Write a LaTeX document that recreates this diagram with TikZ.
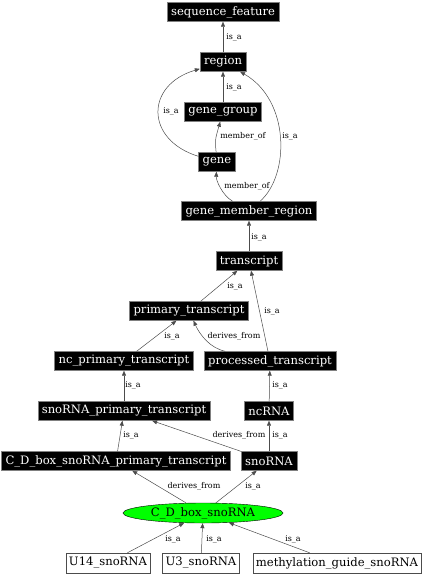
\documentclass[tikz,border=0pt]{standalone}
\usepackage{fontspec}
\setmainfont{DejaVu Serif}
\usetikzlibrary{arrows.meta,shapes.geometric}

\begin{document}
\begin{tikzpicture}[y=-1pt, x=1pt,font=\fontsize{11.6}{13}\selectfont,
term/.style={fill=black,draw=black!50,text=white,inner xsep=4pt,inner ysep=0pt,minimum height=19pt},
leaf/.style={fill=white,draw=black!70,inner xsep=3pt,inner ysep=0pt,minimum height=20pt},
rel/.style={draw=black!70,line width=.5pt,-{Triangle[length=5pt,width=4pt]}},
lbl/.style={font=\fontsize{8}{9}\selectfont,inner sep=0pt,text=black}]
\useasboundingbox (0,0) rectangle (425,576);

\node[term] (sequence_feature) at (223,12) {sequence\_feature};
\node[term] (region) at (223,62) {region};
\node[term] (gene_group) at (223,112) {gene\_group};
\node[term] (gene) at (217,162) {gene};
\node[term] (gene_member_region) at (249,211) {gene\_member\_region};
\node[term] (transcript) at (249,261) {transcript};
\node[term] (primary_transcript) at (189,311) {primary\_transcript};
\node[term] (nc_primary_transcript) at (124,361) {nc\_primary\_transcript};
\node[term] (processed_transcript) at (270,361) {processed\_transcript};
\node[term] (snoRNA_primary_transcript) at (124,411) {snoRNA\_primary\_transcript};
\node[term] (ncRNA) at (269,411) {ncRNA};
\node[term] (CD_primary_transcript) at (116,461) {C\_D\_box\_snoRNA\_primary\_transcript};
\node[term] (snoRNA) at (269,461) {snoRNA};
\node[ellipse,fill=green,draw=black,inner sep=0pt,minimum width=160pt,minimum height=20pt] (CD_snoRNA) at (203,513) {C\_D\_box\_snoRNA};
\node[leaf] (U14) at (108,563) {U14\_snoRNA};
\node[leaf] (U3) at (201,563) {U3\_snoRNA};
\node[leaf] (methylation) at (337,563) {methylation\_guide\_snoRNA};

\draw[rel] (region) -- (sequence_feature) node[lbl] (r1) at (234,37) {is\_a};
\draw[rel] (gene_group) -- (region) node[lbl] (r2) at (234,87) {is\_a};
\draw[rel] (gene) .. controls (145,140) and (145,85) .. (region) node[lbl] (r3) at (171,111) {is\_a};
\draw[rel] (gene) .. controls (215,140) .. (gene_group) node[lbl] (r4) at (243,136) {member\_of};
\draw[rel] (gene_member_region) .. controls (290,175) and (290,100) .. (region) node[lbl] (r5) at (290,136) {is\_a};
\draw[rel] (gene_member_region) .. controls (222,195) and (216,180) .. (gene) node[lbl] (r6) at (247,186) {member\_of};
\draw[rel] (transcript) -- (gene_member_region) node[lbl] (r7) at (259,237) {is\_a};

\draw[rel] (primary_transcript) -- (transcript) node[lbl] (r8) at (235,286) {is\_a};
\draw[rel] (processed_transcript) -- (transcript) node[lbl] (r9) at (272,311) {is\_a};
\draw[rel] (nc_primary_transcript) -- (primary_transcript) node[lbl] (r10) at (172,336) {is\_a};
\draw[rel] (processed_transcript) .. controls (210,348) and (200,335) .. (primary_transcript) node[lbl] (r11) at (234,336) {derives\_from};
\draw[rel] (snoRNA_primary_transcript) -- (nc_primary_transcript) node[lbl] (r12) at (133,385) {is\_a};
\draw[rel] (ncRNA) -- (processed_transcript) node[lbl] (r13) at (280,385) {is\_a};
\draw[rel] (CD_primary_transcript) -- (snoRNA_primary_transcript) node[lbl] (r14) at (131,435) {is\_a};
\draw[rel] (snoRNA) -- (snoRNA_primary_transcript) node[lbl] (r15) at (239,435) {derives\_from};
\draw[rel] (snoRNA) -- (ncRNA) node[lbl] (r16) at (280,435) {is\_a};

\draw[rel] (CD_snoRNA) -- (CD_primary_transcript) node[lbl] (r17) at (194,486) {derives\_from};
\draw[rel] (CD_snoRNA) -- (snoRNA) node[lbl] (r18) at (253,486) {is\_a};
\draw[rel] (U14) -- (CD_snoRNA) node[lbl] (r19) at (173,539) {is\_a};
\draw[rel] (U3) -- (CD_snoRNA) node[lbl] (r20) at (214,539) {is\_a};
\draw[rel] (methylation) -- (CD_snoRNA) node[lbl] (r21) at (293,539) {is\_a};
\end{tikzpicture}
\end{document}
